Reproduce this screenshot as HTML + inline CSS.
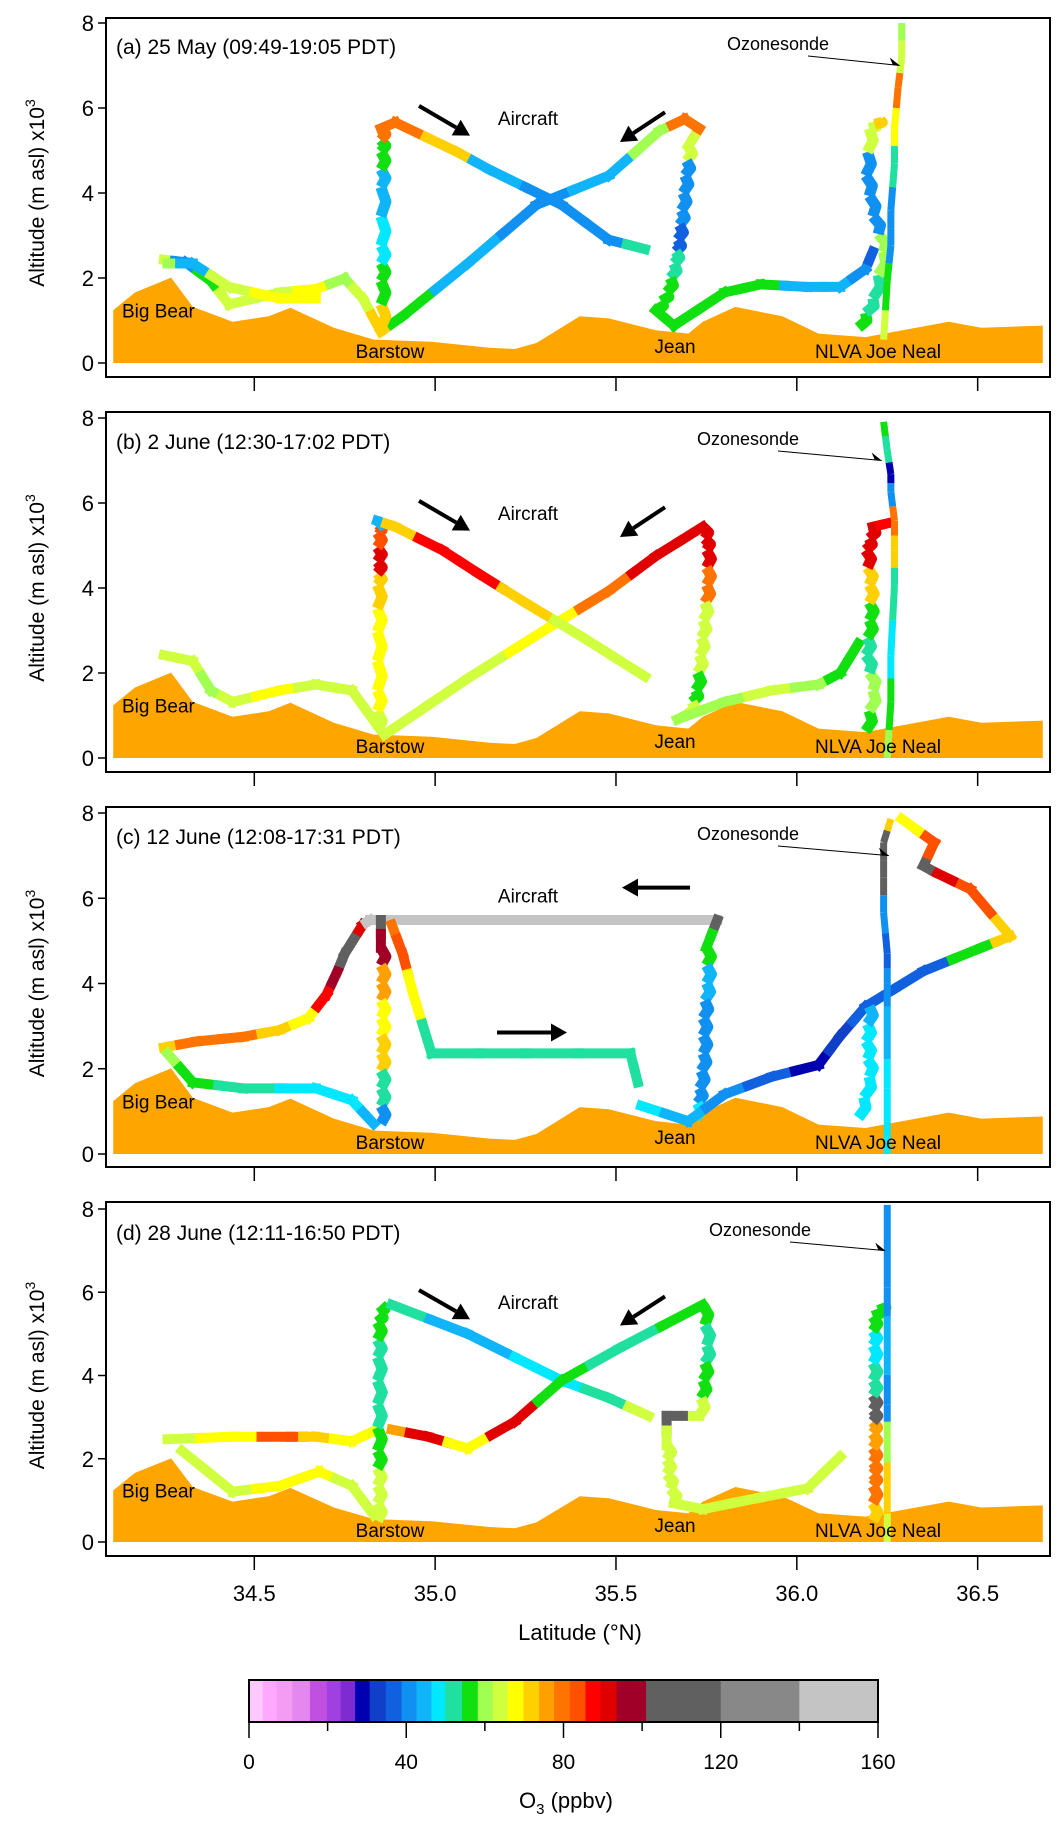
<!DOCTYPE html>
<html><head><meta charset="utf-8"><style>
html,body{margin:0;padding:0;background:#fff;}
svg{display:block;font-family:"Liberation Sans",sans-serif;}
</style></head><body>
<svg id="fig" width="1059" height="1831" viewBox="0 0 1059 1831" xmlns="http://www.w3.org/2000/svg"></svg>
<script>
// ---- data ----
const xTicks = [34.5, 35.0, 35.5, 36.0, 36.5];
const xTickLabels = ["34.5", "35.0", "35.5", "36.0", "36.5"];
const yTicks = [0, 2, 4, 6, 8];
const panelTitles = ["(a) 25 May (09:49-19:05 PDT)", "(b) 2 June (12:30-17:02 PDT)", "(c) 12 June (12:08-17:31 PDT)", "(d) 28 June (12:11-16:50 PDT)"];
const terrainLat = [34.11,34.17,34.27,34.33,34.44,34.54,34.60,34.72,34.83,34.99,35.15,35.22,35.28,35.40,35.48,35.61,35.70,35.74,35.83,35.96,36.06,36.19,36.42,36.51,36.68];
const terrainAlt = [1.24,1.66,2.01,1.32,0.97,1.10,1.30,0.83,0.55,0.50,0.36,0.33,0.47,1.10,1.05,0.77,0.69,0.97,1.32,1.10,0.69,0.61,0.97,0.83,0.88];
const cbBounds = [0,3.5,7,11,15.5,19.8,23.3,27,30.7,34.8,38.8,42.6,46.4,49.9,54.2,58.2,62,65.8,69.8,73.8,77.6,81.6,85.6,89.4,93.5,101,120,140,160];
const cbColors = ["#ffc8ff","#ffa8ff","#f49cf4","#e488f0","#c050e0","#a040e0","#7c2cd0","#0000b0","#1040c8","#1060e0","#1090f0","#10b4f8","#00e8ff","#20e0a0","#10e010","#a0ff50","#d0ff40","#ffff00","#ffd000","#ffa000","#ff7400","#ff5000","#ff0000","#e00000","#a00028","#606060","#888888","#c4c4c4"];
const cbTicks = [0,40,80,120,160];

const tracksA = [
 {lat:[34.25,34.31,34.38,34.43,34.57,34.67,34.75,34.80,34.85,34.91,35.09,35.28,35.48,35.62,35.69,35.73,35.70,35.69,35.68,35.67,35.66,35.64,35.61,35.66,35.80,35.90,36.03,36.12,36.19,36.21],
  alt:[2.43,2.37,1.93,1.38,1.66,1.74,1.99,1.52,0.74,1.10,2.34,3.72,4.41,5.46,5.74,5.52,5.10,4.41,3.59,2.90,2.34,1.66,1.24,0.88,1.66,1.85,1.79,1.79,2.21,2.62],
  o3:[65,42,55,62,65,66,60,65,70,58,46,42,45,60,80,78,62,42,42,38,52,55,55,55,58,55,46,44,42,38], sp:[16,17,18,19,20,21]},
 {lat:[34.85,34.85,34.85,34.85,34.85,34.85,34.89,35.06,35.15,35.35,35.48,35.58],
  alt:[0.83,1.93,2.76,4.14,4.97,5.52,5.66,4.97,4.55,3.72,2.90,2.68],
  o3:[70,55,48,43,55,80,80,72,46,42,40,50], sp:[0,1,2,3,4]},
 {lat:[34.26,34.33,34.43,34.57,34.67], alt:[2.34,2.34,1.79,1.52,1.52], o3:[60,44,62,66,66], sp:[]},
 {lat:[36.17,36.21,36.24,36.21,36.19,36.20,36.23], alt:[0.83,1.52,2.62,3.45,4.41,5.52,5.71], o3:[55,50,60,42,42,65,70], sp:[0,1,2,3,4,5]}
];
const sondeA = {lat:[36.24,36.25,36.26,36.26,36.27,36.27,36.28,36.29,36.29], alt:[0.55,1.93,2.76,3.59,4.69,5.52,6.48,7.17,8.0], o3:[62,55,42,42,50,68,80,62,60]};

const tracksB = [
 {lat:[34.25,34.33,34.38,34.44,34.57,34.67,34.77,34.84,34.86,35.09,35.32,35.48,35.61,35.74,35.75,35.75,35.74,35.73,35.72,35.70,35.67,35.80,35.93,36.06,36.12,36.17],
  alt:[2.42,2.28,1.59,1.32,1.59,1.73,1.59,0.77,0.55,1.87,3.10,3.93,4.75,5.44,4.89,4.07,3.24,2.42,1.59,1.04,0.91,1.32,1.59,1.73,2.00,2.69],
  o3:[64,62,60,64,66,64,62,65,62,62,66,80,90,92,92,80,62,62,58,62,60,60,62,60,58,55], sp:[13,14,15,16,17,18]},
 {lat:[34.84,34.84,34.84,34.84,34.84,34.84,34.84,34.89,35.02,35.12,35.25,35.41,35.58],
  alt:[0.63,1.59,2.97,4.07,4.62,5.30,5.58,5.44,4.89,4.34,3.65,2.83,1.92],
  o3:[65,68,68,70,92,85,45,70,88,88,70,65,62], sp:[0,1,2,3,4,5]},
 {lat:[36.19,36.21,36.19,36.20,36.20,36.19,36.21,36.25], alt:[0.63,1.59,2.42,3.24,4.07,4.89,5.44,5.52], o3:[58,60,50,58,70,90,92,88], sp:[0,1,2,3,4,5]}
];
const sondeB = {lat:[36.25,36.26,36.26,36.27,36.27,36.27,36.26,36.26,36.25,36.24], alt:[0,1.32,2.42,4.07,4.89,5.58,6.26,6.68,7.23,7.91], o3:[60,55,48,50,70,80,40,28,50,58]};

const tracksC = [
 {lat:[34.25,34.34,34.47,34.57,34.65,34.70,34.73,34.75,34.78,34.80,34.82,35.25,35.78], alt:[2.50,2.64,2.75,2.91,3.19,3.74,4.29,4.70,5.11,5.38,5.49,5.49,5.49], o3:[70,78,80,72,68,88,95,105,105,90,145,140,140], sp:[]},
 {lat:[35.78,35.75,35.75,35.74,35.74,35.73,35.72], alt:[5.49,4.84,4.01,3.19,2.36,1.54,0.85], o3:[105,55,45,40,40,40,48], sp:[1,2,3,4,5]},
 {lat:[34.85,34.85,34.85,34.85,34.85,34.85,34.85], alt:[5.49,4.84,4.01,3.19,2.36,1.54,0.71], o3:[105,95,75,68,70,50,42], sp:[1,2,3,4,5]},
 {lat:[34.88,34.91,34.94,34.99,35.25,35.54,35.56], alt:[5.38,4.70,3.74,2.36,2.36,2.36,1.68], o3:[80,85,68,50,52,52,54], sp:[]},
 {lat:[34.26,34.33,34.47,34.67,34.77,34.83], alt:[2.36,1.68,1.54,1.54,1.26,0.71], o3:[60,55,50,48,48,45], sp:[]},
 {lat:[35.57,35.70,35.80,35.93,36.06,36.12,36.19,36.35,36.51,36.59,36.48,36.38,36.35,36.38,36.29], alt:[1.13,0.77,1.40,1.81,2.09,2.77,3.46,4.29,4.84,5.11,6.21,6.62,6.76,7.31,7.86], o3:[48,45,42,38,30,32,35,38,55,72,82,90,110,85,68], sp:[]},
 {lat:[36.17,36.20,36.19,36.20], alt:[0.85,1.81,2.64,3.46], o3:[48,48,48,45], sp:[0,1,2]}
];
const sondeC = {lat:[36.25,36.25,36.25,36.25,36.25,36.24,36.24,36.24,36.26], alt:[0,1.54,2.91,4.01,4.70,5.66,6.48,7.31,7.86], o3:[48,48,45,40,35,40,105,110,70]};

const tracksD = [
 {lat:[34.26,34.44,34.60,34.67,34.77,34.84], alt:[2.47,2.53,2.53,2.53,2.42,2.70], o3:[65,68,85,70,68,68], sp:[]},
 {lat:[34.84,34.84,34.84,34.84,34.84,34.84,34.85], alt:[0.51,1.35,2.19,3.31,4.44,5.28,5.70], o3:[65,62,55,50,50,55,55], sp:[0,1,2,3,4,5]},
 {lat:[34.30,34.44,34.57,34.68,34.77,34.83], alt:[2.19,1.21,1.35,1.69,1.35,0.65], o3:[65,65,66,66,65,65], sp:[]},
 {lat:[34.88,35.09,35.35,35.48,35.59], alt:[5.70,5.00,3.88,3.46,3.03], o3:[50,45,48,50,62], sp:[]},
 {lat:[34.88,34.98,35.09,35.22,35.35,35.51,35.74], alt:[2.70,2.53,2.25,2.89,3.88,4.66,5.70], o3:[75,92,66,92,55,50,55], sp:[]},
 {lat:[35.74,35.75,35.74,35.73,35.64,35.64,35.64,35.66,35.74,35.90,36.03,36.12], alt:[5.70,4.72,3.88,3.03,3.03,2.33,1.63,0.93,0.79,1.07,1.29,2.05], o3:[55,50,55,62,105,62,65,65,65,65,62,62], sp:[0,1,2,5,6]},
 {lat:[36.21,36.21,36.21,36.21,36.21,36.21,36.21,36.21,36.24], alt:[0.51,1.35,1.91,2.61,3.17,3.88,4.72,5.42,5.70], o3:[72,78,80,75,105,50,48,55,55], sp:[0,1,2,3,4,5,6,7]}
];
const sondeD = {lat:[36.25,36.25,36.25,36.25,36.25,36.25,36.25], alt:[0,1.35,2.47,3.31,4.72,6.12,8.1], o3:[62,70,60,42,45,40,40]};

const allTracks = [tracksA, tracksB, tracksC, tracksD];
const allSondes = [sondeA, sondeB, sondeC, sondeD];

// ---- layout ----
const NS = "http://www.w3.org/2000/svg";
const svg = document.getElementById("fig");
const X0 = 106, X1 = 1050;
const latL = 34.09, latR = 36.70;
const panels = [
 {top:18, bot:377, y8:23, y0:363},
 {top:412, bot:772, y8:418, y0:758},
 {top:807, bot:1167, y8:813, y0:1154},
 {top:1202, bot:1556, y8:1209, y0:1542}
];
const sx = v => X0 + (v - latL) / (latR - latL) * (X1 - X0);
function mk(tag, attrs, parent) {
  const e = document.createElementNS(NS, tag);
  for (const k in attrs) e.setAttribute(k, attrs[k]);
  (parent || svg).appendChild(e);
  return e;
}
function colorOf(v) {
  for (let i = 0; i < cbColors.length; i++) if (v < cbBounds[i + 1]) return cbColors[i];
  return cbColors[cbColors.length - 1];
}
function txt(s, x, y, size, anchor, parent) {
  const t = mk("text", {x:x, y:y, "font-size":size, "text-anchor":anchor || "start", fill:"#000"}, parent);
  t.textContent = s;
  return t;
}
// zigzag rendering of a spiral leg (visual style only)
function zig(xa, ya, xb, yb, col, parent) {
  const L = Math.hypot(xb - xa, yb - ya);
  const n = Math.max(2, Math.round(L / 13));
  let pts = [];
  for (let k = 0; k <= n; k++) {
    const t = k / n;
    const off = (k === 0 || k === n) ? 0 : (k % 2 ? 5 : -5);
    pts.push((xa + (xb - xa) * t + off) + "," + (ya + (yb - ya) * t));
  }
  mk("polyline", {points:pts.join(" "), fill:"none", stroke:col, "stroke-width":11, "stroke-linejoin":"round"}, parent);
}

panels.forEach((p, pi) => {
  const sy = v => p.y0 - v / 8 * (p.y0 - p.y8);
  const g = mk("g", {});
  
  
  // terrain
  let pts = terrainLat.map((la, i) => sx(la) + "," + sy(terrainAlt[i])).join(" ");
  pts += " " + sx(terrainLat[terrainLat.length - 1]) + "," + sy(0) + " " + sx(terrainLat[0]) + "," + sy(0);
  const ter = mk("polygon", {points:pts, fill:"#ffa500"}, g);
  
  
  // tracks
  const tg = mk("g", {}, g);
  
  
  allTracks[pi].forEach(tr => {
    for (let i = 0; i < tr.lat.length - 1; i++) {
      const xa = sx(tr.lat[i]), ya = sy(tr.alt[i]), xb = sx(tr.lat[i + 1]), yb = sy(tr.alt[i + 1]);
      const xm = (xa + xb) / 2, ym = (ya + yb) / 2;
      if (tr.sp.includes(i)) {
        zig(xa, ya, xm, ym, colorOf(tr.o3[i]), tg);
        zig(xm, ym, xb, yb, colorOf(tr.o3[i + 1]), tg);
      } else {
        mk("line", {x1:xa, y1:ya, x2:xm, y2:ym, stroke:colorOf(tr.o3[i]), "stroke-width":10, "stroke-linecap":"square"}, tg);
        mk("line", {x1:xm, y1:ym, x2:xb, y2:yb, stroke:colorOf(tr.o3[i + 1]), "stroke-width":10, "stroke-linecap":"square"}, tg);
      }
    }
  });
  // sonde
  const so = allSondes[pi];
  const sg = mk("g", {}, g);
  
  
  for (let i = 0; i < so.lat.length - 1; i++) {
    const xa = sx(so.lat[i]), ya = sy(so.alt[i]), xb = sx(so.lat[i + 1]), yb = sy(so.alt[i + 1]);
    const xm = (xa + xb) / 2, ym = (ya + yb) / 2;
    mk("line", {x1:xa, y1:ya, x2:xm, y2:ym, stroke:colorOf(so.o3[i]), "stroke-width":7}, sg);
    mk("line", {x1:xm, y1:ym, x2:xb, y2:yb, stroke:colorOf(so.o3[i + 1]), "stroke-width":7}, sg);
  }
  // frame
  const fr = mk("rect", {x:X0, y:p.top, width:X1 - X0, height:p.bot - p.top, fill:"none", stroke:"#000", "stroke-width":2}, g);
  
  
  // y ticks
  yTicks.forEach(v => {
    mk("line", {x1:X0 - 8, y1:sy(v), x2:X0, y2:sy(v), stroke:"#000", "stroke-width":1.5}, g);
    const t = txt(String(v), X0 - 12, sy(v) + 8, 22, "end", g);
    
    
  });
  // x ticks
  xTicks.forEach(v => {
    mk("line", {x1:sx(v), y1:p.bot, x2:sx(v), y2:p.bot + 14, stroke:"#000", "stroke-width":1.5}, g);
  });
  // y title
  const yt = mk("text", {transform:"translate(44," + ((p.y0 + p.y8) / 2) + ") rotate(-90)", "font-size":21, "text-anchor":"middle", fill:"#000"}, g);
  yt.innerHTML = 'Altitude (m asl) x10<tspan dy="-9" font-size="14">3</tspan>';
  
  
  // title
  const tt = txt(panelTitles[pi], 116, p.y8 + 31, 21, "start", g);
  
  
  // station labels
  const st = [["Big Bear", 122, 0.95, "start"], ["Barstow", 390, 0.0, "middle"], ["Jean", 675, 0.12, "middle"], ["NLVA Joe Neal", 878, 0.0, "middle"]];
  st.forEach(s => {
    const t = txt(s[0], s[1], sy(s[2]) - 5, 19, s[3], g);
    
    
  });
  // ozonesonde label
  const ozx = [778, 748, 748, 760][pi];
  const oz = txt("Ozonesonde", ozx, p.y8 + 27, 18, "middle", g);
  
  
  const ax = sx(so.lat[so.lat.length - 1]) - 2, ay = sy(7.0);
  mk("line", {x1:ozx + 30, y1:p.y8 + 33, x2:ax, y2:ay, stroke:"#000", "stroke-width":1}, g);
  mk("polygon", {points:(ax) + "," + (ay) + " " + (ax - 10) + "," + (ay - 8) + " " + (ax - 7) + "," + (ay - 1), fill:"#000"}, g);
  // aircraft label & arrows
  const ac = txt("Aircraft", 528, sy(pi === 2 ? 5.9 : 5.6), 19, "middle", g);
  
  
  const arrows = pi === 2 ? [[690, sy(6.25), 622, sy(6.25)], [497, sy(2.85), 567, sy(2.85)]]
    : [[419, sy(6.05), 470, sy(5.35)], [665, sy(5.9), 620, sy(5.2)]];
  arrows.forEach(a => {
    const dx = a[2] - a[0], dy = a[3] - a[1], L = Math.hypot(dx, dy), ux = dx / L, uy = dy / L;
    const bx = a[2] - ux * 16, by = a[3] - uy * 16;
    const ln = mk("line", {x1:a[0], y1:a[1], x2:bx, y2:by, stroke:"#000", "stroke-width":4}, g);
    
    
    mk("polygon", {points:a[2] + "," + a[3] + " " + (bx - uy * 9) + "," + (by + ux * 9) + " " + (bx + uy * 9) + "," + (by - ux * 9), fill:"#000"}, g);
  });
});

// x tick labels (bottom)
xTicks.forEach((v, i) => {
  const t = txt(xTickLabels[i], sx(v), 1601, 22, "middle");
  
  
});
const xt = txt("Latitude (°N)", 580, 1640, 22, "middle");



// colorbar
const CB0 = 249, CB1 = 878, CBT = 1680, CBB = 1722;
const cbx = v => CB0 + v / 160 * (CB1 - CB0);
const cbg = mk("g", {});


cbColors.forEach((c, i) => {
  mk("rect", {x:cbx(cbBounds[i]), y:CBT, width:cbx(cbBounds[i + 1]) - cbx(cbBounds[i]) + 0.5, height:CBB - CBT, fill:c}, cbg);
});
mk("rect", {x:CB0, y:CBT, width:CB1 - CB0, height:CBB - CBT, fill:"none", stroke:"#000", "stroke-width":2}, cbg);
[0,20,40,60,80,100,120,140,160].forEach(v => {
  const major = v % 40 === 0;
  mk("line", {x1:cbx(v), y1:CBB, x2:cbx(v), y2:CBB + (major ? 16 : 9), stroke:"#000", "stroke-width":1.5}, cbg);
});
cbTicks.forEach(v => {
  const t = txt(String(v), cbx(v), 1769, 21, "middle", cbg);
  
  
});
const cbt = mk("text", {x:566, y:1808, "font-size":22, "text-anchor":"middle", fill:"#000"});
cbt.innerHTML = 'O<tspan dy="6" font-size="15">3</tspan><tspan dy="-6"> (ppbv)</tspan>';


</script>
</body></html>
